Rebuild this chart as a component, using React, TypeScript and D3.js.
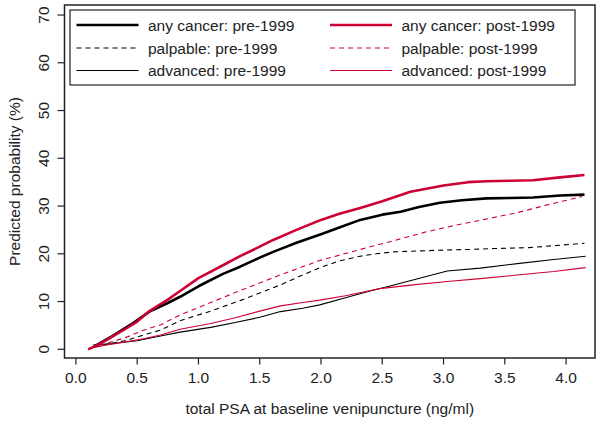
import React from "react";
import * as d3 from "d3";

const xTicks = [0, 0.5, 1, 1.5, 2, 2.5, 3, 3.5, 4];
const yTicks = [0, 10, 20, 30, 40, 50, 60, 70];

const anyPreX = [0.15, 0.3, 0.45, 0.6, 0.75, 0.85, 1.0, 1.2, 1.34, 1.5, 1.61, 1.8, 2.0, 2.15, 2.32, 2.5, 2.65, 2.8, 2.97, 3.15, 3.35, 3.55, 3.73, 3.95, 4.15];
const anyPreY = [0.6, 2.8, 5.2, 7.9, 9.7, 11.0, 13.2, 15.8, 17.3, 19.2, 20.4, 22.3, 24.1, 25.5, 27.1, 28.2, 28.8, 29.8, 30.7, 31.2, 31.6, 31.7, 31.8, 32.2, 32.4];

const anyPostX = [0.1, 0.2, 0.3, 0.4, 0.5, 0.6, 0.75, 0.85, 1.0, 1.2, 1.34, 1.5, 1.61, 1.8, 2.0, 2.15, 2.32, 2.5, 2.73, 3.0, 3.2, 3.35, 3.55, 3.73, 3.95, 4.15];
const anyPostY = [0, 1.2, 2.7, 4.2, 5.8, 8.0, 10.4, 12.2, 14.9, 17.6, 19.5, 21.5, 22.9, 25.0, 27.1, 28.4, 29.6, 31.0, 33.0, 34.3, 35.0, 35.2, 35.3, 35.4, 36.0, 36.5];

const palpPreX = [0.15, 0.3, 0.42, 0.55, 0.69, 0.85, 1.1, 1.35, 1.5, 1.67, 1.8, 1.99, 2.15, 2.32, 2.45, 2.59, 2.8, 3.03, 3.2, 3.41, 3.7, 3.9, 4.15];
const palpPreY = [0.5, 1.3, 1.9, 3.0, 4.0, 6.0, 8.0, 10.3, 11.8, 13.5, 15.0, 17.1, 18.5, 19.5, 20.0, 20.4, 20.6, 20.8, 20.9, 21.1, 21.3, 21.7, 22.2];

const palpPostX = [0.12, 0.25, 0.42, 0.55, 0.69, 0.85, 1.1, 1.34, 1.67, 1.99, 2.32, 2.6, 2.86, 3.1, 3.41, 3.6, 3.84, 4.13];
const palpPostY = [0.3, 1.2, 2.6, 4.0, 5.1, 7.2, 9.8, 12.3, 15.6, 18.6, 20.9, 22.8, 24.6, 26.0, 27.6, 28.6, 30.2, 32.0];

const advPreX = [0.14, 0.3, 0.5, 0.69, 0.85, 1.1, 1.3, 1.5, 1.67, 1.85, 1.99, 2.2, 2.4, 2.54, 2.75, 3.03, 3.3, 3.62, 3.9, 4.16];
const advPreY = [0.9, 1.2, 1.8, 2.8, 3.6, 4.6, 5.6, 6.7, 7.9, 8.6, 9.3, 10.8, 12.2, 13.1, 14.5, 16.4, 17.0, 18.0, 18.8, 19.5];

const advPostX = [0.1, 0.25, 0.42, 0.55, 0.69, 0.85, 1.1, 1.3, 1.5, 1.67, 1.85, 1.99, 2.2, 2.48, 2.75, 3.03, 3.3, 3.62, 3.9, 4.16];
const advPostY = [0.1, 0.9, 1.6, 2.2, 3.0, 4.2, 5.4, 6.6, 8.0, 9.1, 9.8, 10.3, 11.2, 12.7, 13.5, 14.2, 14.8, 15.6, 16.3, 17.1];

const legendLabels = [
  "any cancer: pre-1999",
  "palpable: pre-1999",
  "advanced: pre-1999",
  "any cancer: post-1999",
  "palpable: post-1999",
  "advanced: post-1999",
];

const RED = "#cc0033";
const FONT = "'Liberation Sans', Arial, sans-serif";

type S = { xs: number[]; ys: number[]; color: string; width: number; dash?: string };

const series: S[] = [
  { xs: anyPreX, ys: anyPreY, color: "#000", width: 2.6 },
  { xs: palpPreX, ys: palpPreY, color: "#000", width: 1.1, dash: "5,4" },
  { xs: advPreX, ys: advPreY, color: "#000", width: 1.1 },
  { xs: anyPostX, ys: anyPostY, color: RED, width: 2.6 },
  { xs: palpPostX, ys: palpPostY, color: RED, width: 1.1, dash: "5,4" },
  { xs: advPostX, ys: advPostY, color: RED, width: 1.1 },
];

export default function App() {
  const left = 64.5, right = 595, top = 5, bottom = 358;
  const x = d3.scaleLinear().domain([-0.093, 4.236]).range([left, right]);
  const y = d3.scaleLinear().domain([-1.82, 72.1]).range([bottom, top]);
  const line = d3
    .line<[number, number]>()
    .x((d) => x(d[0]))
    .y((d) => y(d[1]));

  return (
    <svg
      width={601}
      height={424}
      style={{ position: "absolute", left: 0, top: 0, background: "#fff" }}
      fontFamily={FONT}
    >
      <rect x={0} y={0} width={601} height={424} fill="#fff" />
      {series.map((s, i) => (
        <path
          key={i}
          d={line(s.xs.map((v, j) => [v, s.ys[j]] as [number, number])) || ""}
          fill="none"
          stroke={s.color}
          strokeWidth={s.width}
          strokeDasharray={s.dash}
          strokeLinejoin="round"
        />
      ))}
      {/* plot box */}
      <rect x={left} y={top} width={right - left} height={bottom - top} fill="none" stroke="#222" strokeWidth={1.5} />
      {/* x axis */}
      {xTicks.map((t) => (
        <g key={t}>
          <line x1={x(t)} x2={x(t)} y1={bottom} y2={bottom + 6.5} stroke="#222" strokeWidth={1.2} />
          <text x={x(t)} y={383} textAnchor="middle" fontSize={15.5} fill="#222">
            {t.toFixed(1)}
          </text>
        </g>
      ))}
      {/* y axis */}
      {yTicks.map((t) => (
        <g key={t}>
          <line x1={left - 7} x2={left} y1={y(t)} y2={y(t)} stroke="#222" strokeWidth={1.2} />
          <text
            transform={`translate(49,${y(t)}) rotate(-90)`}
            textAnchor="middle"
            fontSize={15.5}
            fill="#222"
          >
            {t}
          </text>
        </g>
      ))}
      <text x={(left + right) / 2} y={414} textAnchor="middle" fontSize={15.5} fill="#222">
        total PSA at baseline venipuncture (ng/ml)
      </text>
      <text
        transform={`translate(19.5,${(top + bottom) / 2}) rotate(-90)`}
        textAnchor="middle"
        fontSize={15.5}
        fill="#222"
      >
        Predicted probability (%)
      </text>
      {/* legend */}
      <rect x={70} y={10} width={505} height={75} fill="#fff" stroke="#222" strokeWidth={1.2} />
      {series.map((s, i) => {
        const col = Math.floor(i / 3);
        const row = i % 3;
        const ly = [25, 48, 70.5][row];
        const lx = col === 0 ? 76.5 : 330;
        return (
          <g key={"lg" + i}>
            <line
              x1={lx}
              x2={lx + 62}
              y1={ly}
              y2={ly}
              stroke={s.color}
              strokeWidth={s.width}
              strokeDasharray={s.dash}
            />
            <text x={lx + 71.5} y={ly + 5.5} fontSize={15.5} fill="#222">
              {legendLabels[i]}
            </text>
          </g>
        );
      })}
    </svg>
  );
}
